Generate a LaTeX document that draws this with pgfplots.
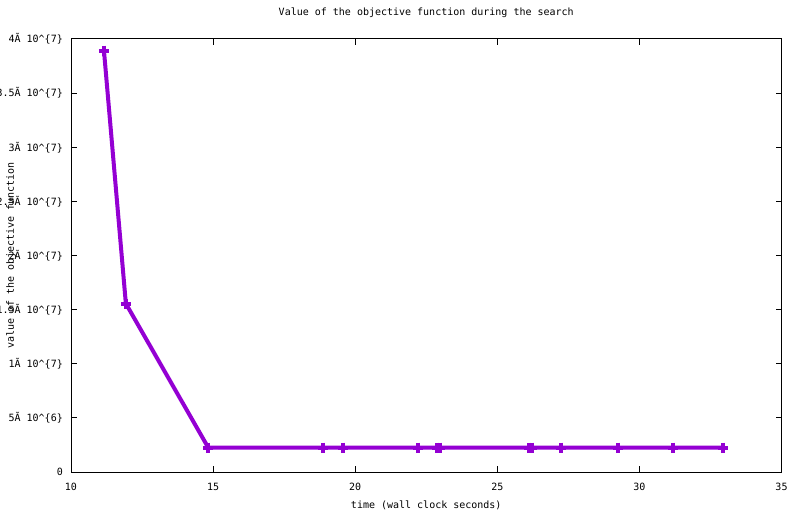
\documentclass[border=0pt]{standalone}
\usepackage{fontspec}
\setmainfont{DejaVu Sans Mono}
\usepackage{pgfplots}
\pgfplotsset{compat=1.18}
\definecolor{gpviolet}{HTML}{9400D3}
\begin{document}
\fontsize{10pt}{12pt}\selectfont
\begin{tikzpicture}[x=1pt,y=1pt]
\useasboundingbox (0,0) rectangle (800,514);
\fill[white] (0,0) rectangle (800,514);
\begin{axis}[
  at={(71pt,42pt)}, anchor=south west,
  scale only axis, width=710.5pt, height=433pt,
  xmin=10, xmax=35, ymin=0, ymax=4e7,
  axis line style={line width=1pt},
  tick align=inside, major tick length=6pt,
  every tick/.style={black, line width=1pt},
  xtick={10,15,20,25,30,35},
  xticklabels={10,15,20,25,30,35},
  ytick={0,5e6,1e7,1.5e7,2e7,2.5e7,3e7,3.5e7,4e7},
  yticklabels={0, 5Ã 10\textasciicircum\{6\}, 1Ã 10\textasciicircum\{7\}, 1.5Ã 10\textasciicircum\{7\}, 2Ã 10\textasciicircum\{7\}, 2.5Ã 10\textasciicircum\{7\}, 3Ã 10\textasciicircum\{7\}, 3.5Ã 10\textasciicircum\{7\}, 4Ã 10\textasciicircum\{7\}},
  scaled ticks=false,
  xticklabel style={anchor=center, yshift=-15pt, inner sep=0pt},
  yticklabel style={anchor=east, xshift=-8pt, inner sep=0pt},
  title={Value of the objective function during the search},
  title style={at={(axis description cs:0.5,1)}, anchor=center, yshift=20pt, inner sep=0pt},
  xlabel={time (wall clock seconds)},
  ylabel={value of the objective function},
  every axis x label/.style={at={(axis description cs:0.5,0)}, anchor=center, yshift=-33pt, inner sep=0pt},
  every axis y label/.style={at={(axis description cs:0,0.5)}, anchor=center, rotate=90, yshift=60pt, inner sep=0pt},
  clip=false,
]
\addplot[color=gpviolet, line width=4pt, mark=+, mark size=5pt,
  mark options={line width=4pt, solid}] coordinates {
  (11.16, 3.892e7)
  (11.93, 1.556e7)
  (14.83, 2.25e6)
  (18.87, 2.25e6)
  (19.58, 2.25e6)
  (22.22, 2.25e6)
  (22.89, 2.25e6)
  (22.99, 2.25e6)
  (26.12, 2.25e6)
  (26.23, 2.25e6)
  (27.25, 2.25e6)
  (29.26, 2.25e6)
  (31.19, 2.25e6)
  (32.93, 2.25e6)
};
\end{axis}
\end{tikzpicture}
\end{document}
